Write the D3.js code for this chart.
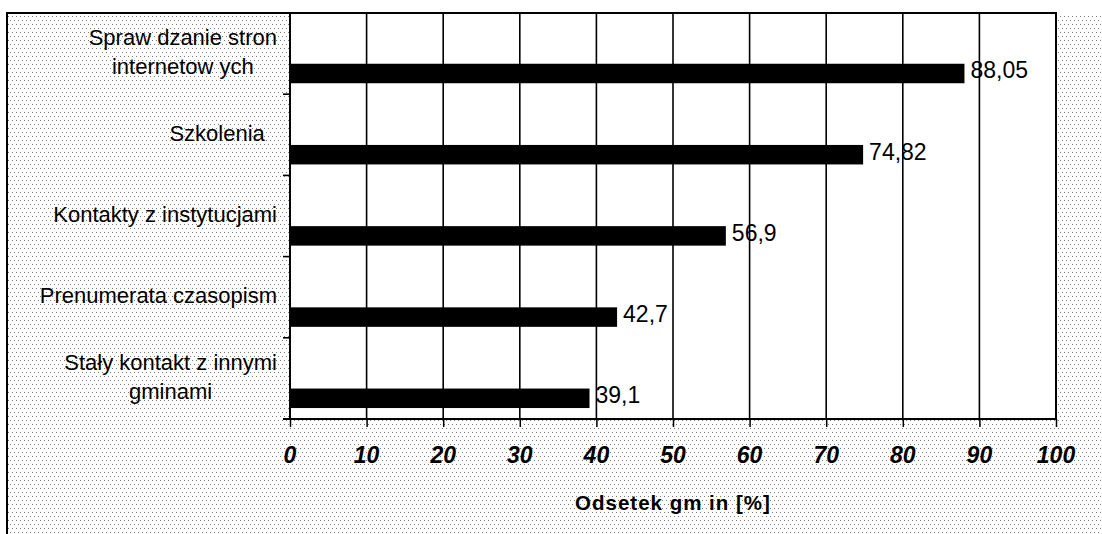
<!DOCTYPE html>
<html>
<head>
<meta charset="utf-8">
<script src="https://cdn.jsdelivr.net/npm/d3@7"></script>
<style>
  html, body { margin: 0; padding: 0; background: #fff; }
  svg { display: block; }
  text { font-family: "Liberation Sans", Arial, sans-serif; }
</style>
</head>
<body>
<svg id="chart" width="1102" height="534"></svg>
<script>
// Category labels (one entry per line of the label)
const categories = [
  ["Spraw dzanie stron", "internetow ych"],
  ["Szkolenia  "],
  ["Kontakty z instytucjami"],
  ["Prenumerata czasopism"],
  ["Stały kontakt z innymi", "gminami"]
];
// Share of municipalities, percent
const values = [88.05, 74.82, 56.9, 42.7, 39.1];
const valueLabels = ["88,05", "74,82", "56,9", "42,7", "39,1"];
const xTicks = [0, 10, 20, 30, 40, 50, 60, 70, 80, 90, 100];
const axisTitle = "Odsetek gm in [%]";

const W = 1102, H = 534;
const plot = { left: 290, right: 1056, top: 13, bottom: 419 };
const frame = { left: 7, top: 13 };

const svg = d3.select("#chart");

// dotted chart-area fill
const defs = svg.append("defs");
const pat = defs.append("pattern")
  .attr("id", "dots").attr("patternUnits", "userSpaceOnUse")
  .attr("width", 4).attr("height", 8);
pat.append("rect").attr("x", 0).attr("y", 0).attr("width", 1).attr("height", 1).attr("fill", "#7a7a7a");
pat.append("rect").attr("x", 2).attr("y", 4).attr("width", 1).attr("height", 1).attr("fill", "#7a7a7a");

svg.append("rect").attr("x", frame.left).attr("y", frame.top)
  .attr("width", W - frame.left).attr("height", H - frame.top)
  .attr("fill", "url(#dots)");

// plot area
svg.append("rect").attr("x", plot.left).attr("y", plot.top)
  .attr("width", plot.right - plot.left).attr("height", plot.bottom - plot.top)
  .attr("fill", "#fff");

const x = d3.scaleLinear().domain([0, 100]).range([plot.left, plot.right]);
const y = d3.scaleBand().domain(d3.range(categories.length)).range([plot.top, plot.bottom]).padding(0);
const bw = y.bandwidth();

// vertical gridlines
svg.append("g").selectAll("line").data(xTicks.filter(t => t > 0 && t < 100)).join("line")
  .attr("x1", d => x(d)).attr("x2", d => x(d))
  .attr("y1", plot.top).attr("y2", plot.bottom)
  .attr("stroke", "#000").attr("stroke-width", 1.6);

// bars
svg.append("g").selectAll("rect").data(values).join("rect")
  .attr("x", x(0))
  .attr("y", (d, i) => y(i) + bw * 0.625)
  .attr("width", d => x(d) - x(0))
  .attr("height", bw * 0.24)
  .attr("fill", "#000");

// value labels
svg.append("g").selectAll("text").data(values).join("text")
  .attr("x", d => x(d) + 6)
  .attr("y", (d, i) => y(i) + bw * 0.745 + 5)
  .attr("font-size", 23)
  .attr("fill", "#000")
  .text((d, i) => valueLabels[i]);

// frame lines
svg.append("line").attr("x1", frame.left).attr("x2", plot.right + 1)
  .attr("y1", frame.top).attr("y2", frame.top)
  .attr("stroke", "#000").attr("stroke-width", 2);
svg.append("line").attr("x1", frame.left).attr("x2", frame.left)
  .attr("y1", frame.top - 1).attr("y2", H)
  .attr("stroke", "#000").attr("stroke-width", 2);
svg.append("line").attr("x1", plot.right).attr("x2", plot.right)
  .attr("y1", plot.top).attr("y2", plot.bottom)
  .attr("stroke", "#000").attr("stroke-width", 2);

// category axis with ticks at band boundaries
const bounds = d3.range(categories.length + 1).map(i => plot.top + i * bw);
svg.append("g").selectAll("line").data(bounds).join("line")
  .attr("x1", plot.left - 7).attr("x2", plot.left)
  .attr("y1", d => d).attr("y2", d => d)
  .attr("stroke", "#000").attr("stroke-width", 1.6);
svg.append("line").attr("x1", plot.left).attr("x2", plot.left)
  .attr("y1", plot.top).attr("y2", plot.bottom)
  .attr("stroke", "#000").attr("stroke-width", 2);

// value axis: major and minor ticks
const gx = svg.append("g").attr("transform", `translate(0,${plot.bottom})`);
gx.call(d3.axisBottom(x).tickValues(d3.range(0, 101, 1)).tickSize(5).tickFormat(""));
gx.call(d3.axisBottom(x).tickValues(xTicks).tickSize(8).tickFormat(""));
gx.selectAll(".domain").remove();
gx.selectAll("line").attr("stroke", "#000").attr("stroke-width", 1.5);
svg.append("line").attr("x1", plot.left - 7).attr("x2", plot.right + 1)
  .attr("y1", plot.bottom).attr("y2", plot.bottom)
  .attr("stroke", "#000").attr("stroke-width", 2);

// value axis labels
svg.append("g").selectAll("text").data(xTicks).join("text")
  .attr("x", d => x(d)).attr("y", 463)
  .attr("text-anchor", "middle")
  .attr("font-size", 23).attr("font-weight", "bold").attr("font-style", "italic")
  .text(d => d);

// axis title
svg.append("text")
  .attr("x", (plot.left + plot.right) / 2).attr("y", 510)
  .attr("text-anchor", "middle")
  .attr("font-size", 20.5).attr("font-weight", "bold")
  .attr("letter-spacing", 1)
  .style("white-space", "pre")
  .text(axisTitle);

// category labels: lines centred within their block, block right-aligned
const labelRight = 277, lineH = 28.5;
categories.forEach((lines, i) => {
  const g = svg.append("g");
  const texts = lines.map(t => g.append("text").attr("font-size", 22).style("white-space", "pre").text(t));
  const wMax = d3.max(texts, t => t.node().getComputedTextLength());
  const cx = labelRight - wMax / 2;
  const mid = y(i) + bw / 2 - 2;
  const firstBase = mid - (lines.length - 1) * lineH / 2 + 8;
  texts.forEach((t, k) => t.attr("x", cx).attr("text-anchor", "middle").attr("y", firstBase + k * lineH));
});
</script>
</body>
</html>
